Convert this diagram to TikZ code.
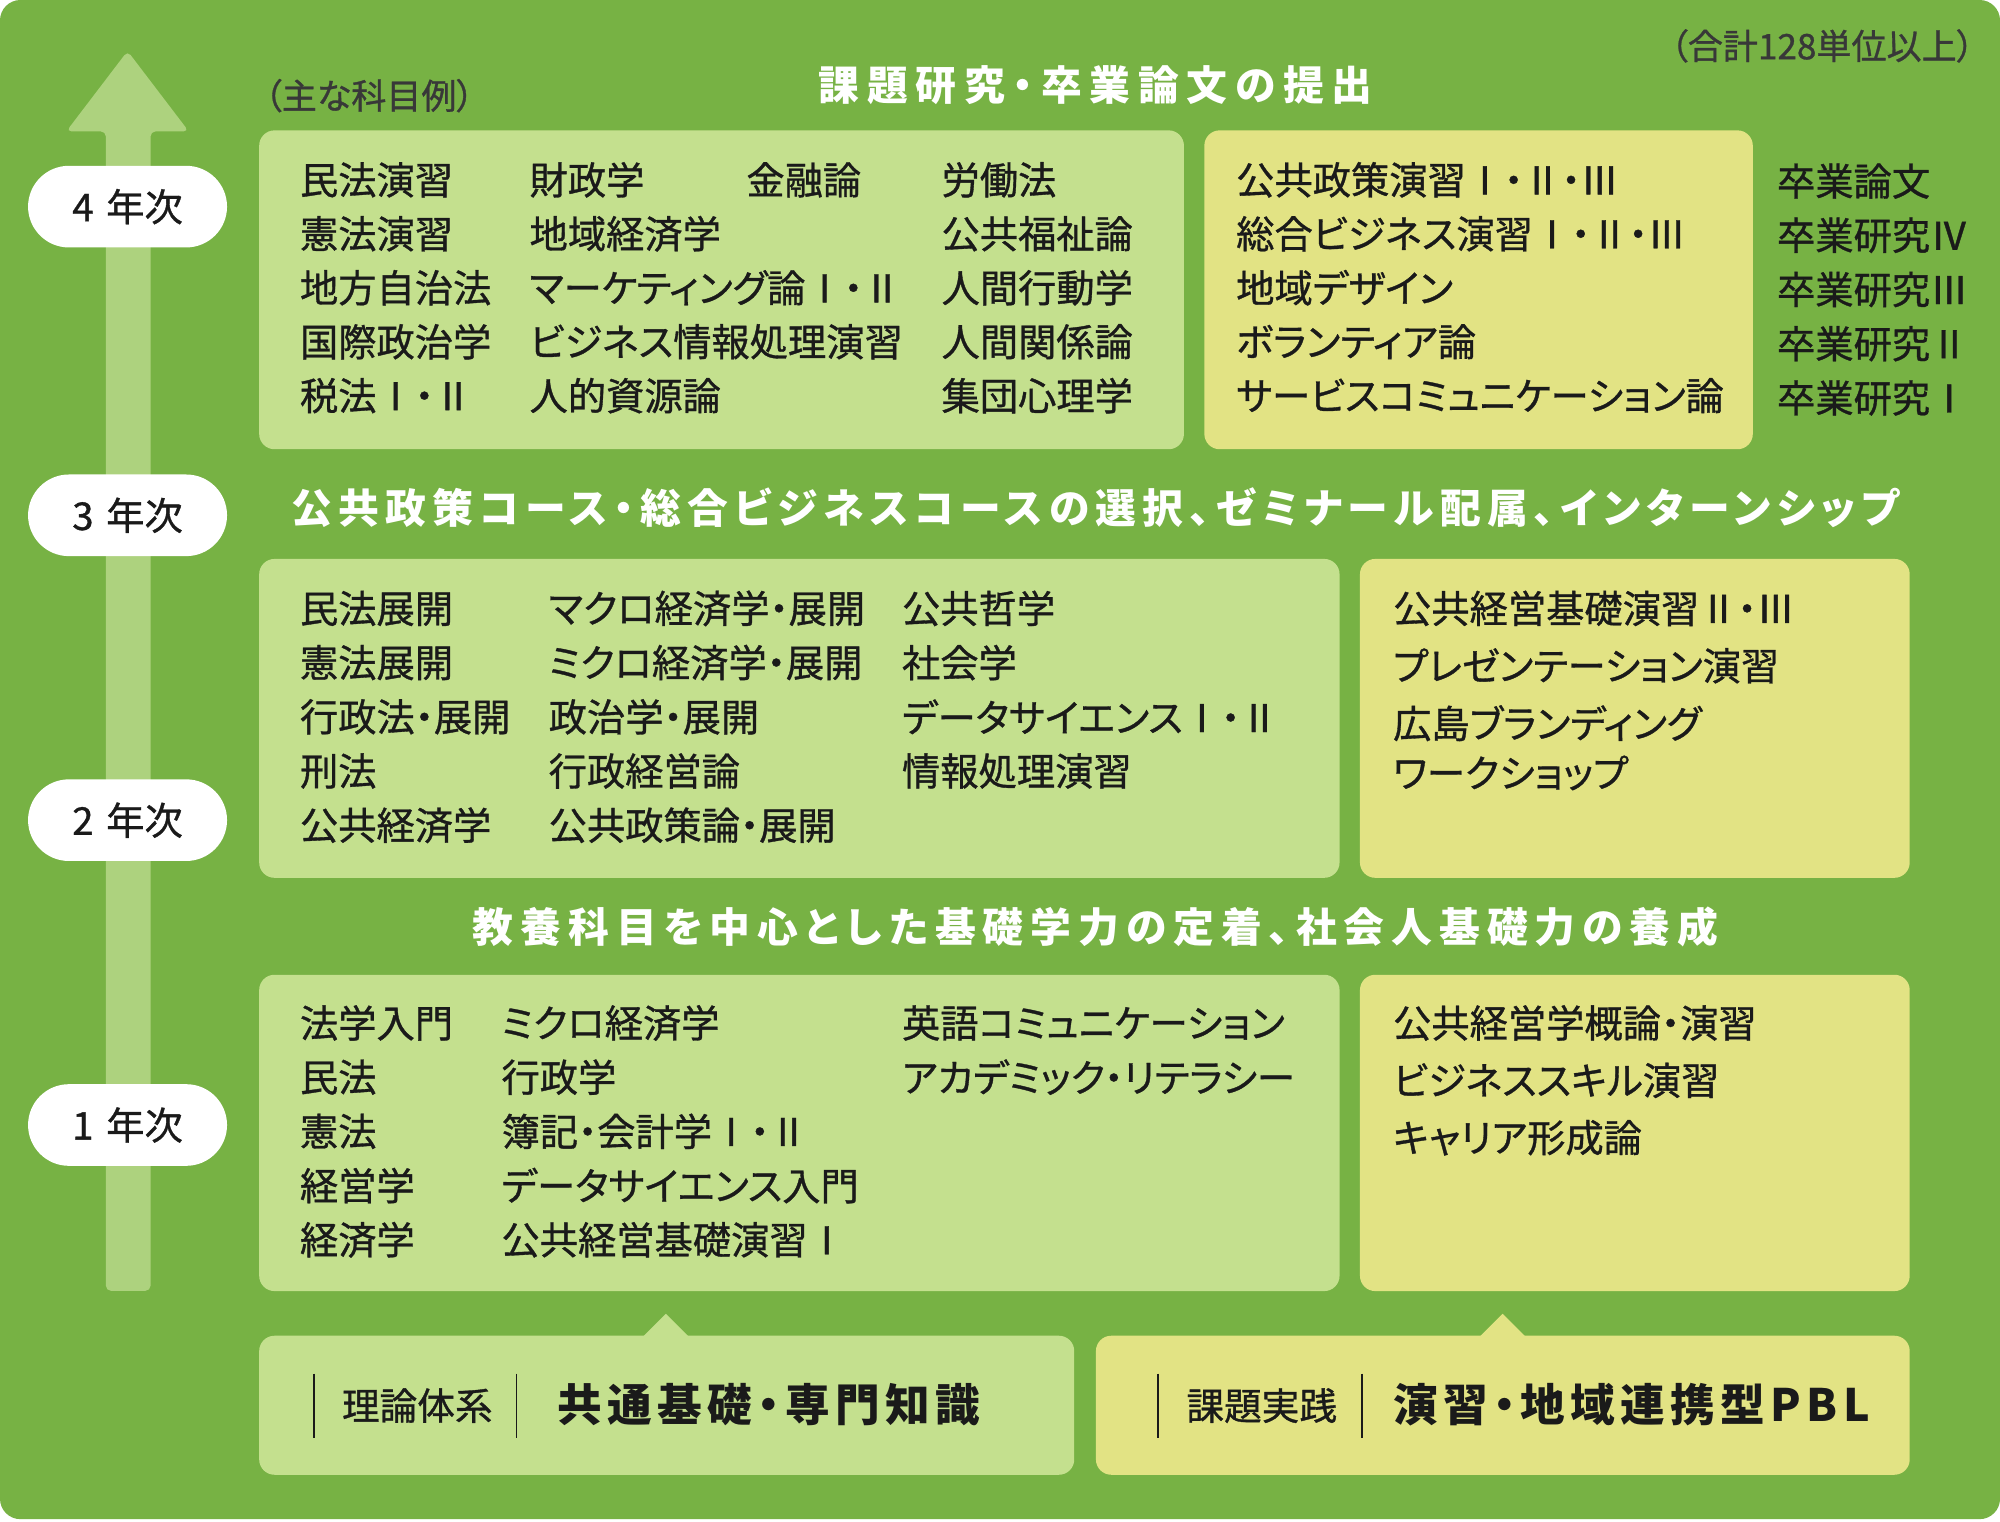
\documentclass[tikz,border=0pt]{standalone}
\usepackage{fontspec}
\setmainfont{Noto Sans CJK JP}[RawFeature=+palt]
\newfontfamily\medfont{Noto Sans CJK JP}[RawFeature=+palt, FakeBold=0.9]
\definecolor{bggreen}{HTML}{77B244}
\definecolor{lgreen}{HTML}{C4E08E}
\definecolor{lyellow}{HTML}{E2E384}
\definecolor{arrowgreen}{HTML}{ADD27E}
\definecolor{ink}{HTML}{1A1A1A}
\definecolor{note}{HTML}{383838}
\tikzset{
  lgbox/.style={fill=lgreen, draw=none, rounded corners=12pt, anchor=north west, inner sep=0pt},
  ylbox/.style={fill=lyellow, draw=none, rounded corners=12pt, anchor=north west, inner sep=0pt},
  item/.style={anchor=west, inner sep=0pt, text=ink, font=\medfont\fontsize{30}{34}\selectfont},
  yearpill/.style={fill=white, draw=none, rounded corners=32pt, minimum width=156pt, minimum height=64pt, inner sep=0pt, text=ink, font=\medfont\fontsize{30}{34}\selectfont},
  headline/.style={inner sep=0pt, text=white, font=\bfseries\fontsize{32}{36}\selectfont\addfontfeature{LetterSpace=19}},
  notetext/.style={inner sep=0pt, text=note, font=\medfont\fontsize{27.5}{32}\selectfont},
  sep/.style={draw=ink, line width=1.2pt},
  label/.style={anchor=west, inner sep=0pt, text=ink, font=\medfont\fontsize{29.5}{34}\selectfont},
  biglabel/.style={anchor=west, inner sep=0pt, text=ink, font=\bfseries\fontsize{35}{40}\selectfont\addfontfeature{LetterSpace=12}},
}
\begin{document}
\begin{tikzpicture}[x=1pt,y=-1pt]
\useasboundingbox (0,0) rectangle (1568,1192.5);
\fill[white] (0,0) rectangle (1568,1192.5);
\fill[bggreen, rounded corners=16pt] (0,0) rectangle (1568,1191);

% arrow
\fill[arrowgreen, rounded corners=4pt] (83,1012) -- (83,103) -- (52,103) -- (100,40) -- (148,103) -- (118,103) -- (118,1012) -- cycle;

% year pills
\node[yearpill] (y4) at (100,162) {4\,\,年次};
\node[yearpill] (y3) at (100,404) {3\,\,年次};
\node[yearpill] (y2) at (100,643) {2\,\,年次};
\node[yearpill] (y1) at (100,882) {1\,\,年次};

% notes and headlines
\node[notetext, anchor=east] (total) at (1548,36) {（合計128単位以上）};
\node[notetext, anchor=west] (examples) at (207,75) {（主な科目例）};
\node[headline] (h4) at (859,67) {課題研究・卒業論文の提出};
\node[headline, font=\bfseries\fontsize{32}{36}\selectfont\addfontfeature{LetterSpace=15}] (h3) at (859,398) {公共政策コース・総合ビジネスコースの選択、ゼミナール配属、インターンシップ};
\node[headline, font=\bfseries\fontsize{32}{36}\selectfont\addfontfeature{LetterSpace=17}] (h1) at (859,727) {教養科目を中心とした基礎学力の定着、社会人基礎力の養成};

% year 4 boxes
\node[lgbox, minimum width=725pt, minimum height=250pt] (b4a) at (203,102) {};
\node[ylbox, minimum width=430pt, minimum height=250pt] (b4b) at (944,102) {};

\foreach \t [count=\i] in {民法演習,憲法演習,地方自治法,国際政治学,税法Ⅰ・Ⅱ}
  \node[item] (c4a\i) at (235,{141+42.3*(\i-1)}) {\t};
\foreach \t [count=\i] in {財政学,地域経済学,マーケティング論Ⅰ・Ⅱ,ビジネス情報処理演習,人的資源論}
  \node[item] (c4b\i) at (415,{141+42.3*(\i-1)}) {\t};
\node[item] (c4c1) at (585,141) {金融論};
\foreach \t [count=\i] in {労働法,公共福祉論,人間行動学,人間関係論,集団心理学}
  \node[item] (c4d\i) at (738,{141+42.3*(\i-1)}) {\t};
\foreach \t [count=\i] in {公共政策演習Ⅰ・Ⅱ・Ⅲ,総合ビジネス演習Ⅰ・Ⅱ・Ⅲ,地域デザイン,ボランティア論,サービスコミュニケーション論}
  \node[item] (c4y\i) at (969,{141+42.3*(\i-1)}) {\t};
\foreach \t [count=\i] in {卒業論文,卒業研究Ⅳ,卒業研究Ⅲ,卒業研究Ⅱ,卒業研究Ⅰ}
  \node[item] (c4r\i) at (1393,{142+42.5*(\i-1)}) {\t};

% year 2 boxes
\node[lgbox, minimum width=847pt, minimum height=250pt] (b2a) at (203,438) {};
\node[ylbox, minimum width=431pt, minimum height=250pt] (b2b) at (1066,438) {};

\foreach \t [count=\i] in {民法展開,憲法展開,行政法・展開,刑法,公共経済学}
  \node[item] (c2a\i) at (235,{477+42.5*(\i-1)}) {\t};
\foreach \t [count=\i] in {マクロ経済学・展開,ミクロ経済学・展開,政治学・展開,行政経営論,公共政策論・展開}
  \node[item] (c2b\i) at (430,{477+42.5*(\i-1)}) {\t};
\foreach \t [count=\i] in {公共哲学,社会学,データサイエンスⅠ・Ⅱ,情報処理演習}
  \node[item] (c2c\i) at (707,{477+42.5*(\i-1)}) {\t};
\node[item] (c2y1) at (1092,477) {公共経営基礎演習Ⅱ・Ⅲ};
\node[item] (c2y2) at (1092,522) {プレゼンテーション演習};
\node[item] (c2y3) at (1092,567) {広島ブランディング};
\node[item] (c2y4) at (1092,606) {ワークショップ};

% year 1 boxes
\node[lgbox, minimum width=847pt, minimum height=248pt] (b1a) at (203,764) {};
\node[ylbox, minimum width=431pt, minimum height=248pt] (b1b) at (1066,764) {};

\foreach \t [count=\i] in {法学入門,民法,憲法,経営学,経済学}
  \node[item] (c1a\i) at (235,{802+42.5*(\i-1)}) {\t};
\foreach \t [count=\i] in {ミクロ経済学,行政学,簿記・会計学Ⅰ・Ⅱ,データサイエンス入門,公共経営基礎演習Ⅰ}
  \node[item] (c1b\i) at (393,{802+42.5*(\i-1)}) {\t};
\foreach \t [count=\i] in {英語コミュニケーション,アカデミック・リテラシー}
  \node[item] (c1c\i) at (707,{802+42.5*(\i-1)}) {\t};
\foreach \t [count=\i] in {公共経営学概論・演習,ビジネススキル演習,キャリア形成論}
  \node[item] (c1y\i) at (1092,{802+45*(\i-1)}) {\t};

% bottom boxes with pointers
\fill[lgreen] (503,1049) -- (522,1030) -- (541,1049) -- cycle;
\fill[lyellow] (1159,1049) -- (1178,1030) -- (1197,1049) -- cycle;
\node[lgbox, minimum width=639pt, minimum height=109pt] (bl) at (203,1047) {};
\node[ylbox, minimum width=638pt, minimum height=109pt] (br) at (859,1047) {};

\draw[sep] (246,1077) -- (246,1127);
\node[label] (theory) at (268,1102) {理論体系};
\draw[sep] (405,1077) -- (405,1127);
\node[biglabel] (basic) at (437,1101) {共通基礎・専門知識};

\draw[sep] (908,1077) -- (908,1127);
\node[label] (practice) at (930,1102) {課題実践};
\draw[sep] (1068,1077) -- (1068,1127);
\node[biglabel] (pbl) at (1092,1101) {演習・地域連携型PBL};
\end{tikzpicture}
\end{document}
